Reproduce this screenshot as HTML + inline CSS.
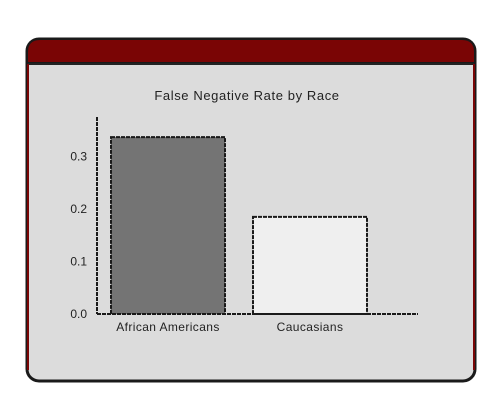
<!DOCTYPE html>
<html><head><meta charset="utf-8"><style>
body{margin:0;background:#fff;width:500px;height:400px;overflow:hidden;font-family:"Liberation Sans",sans-serif}
</style></head><body>
<svg width="500" height="400">
<rect x="27" y="39" width="448" height="342" rx="12" fill="#dcdcdc" stroke="#1a1a1a" stroke-width="3"/>
<path d="M27,63 L27,52 Q27,39 40,39 L462,39 Q475,39 475,52 L475,63 Z" fill="#7a0505" stroke="#1a1a1a" stroke-width="2"/>
<line x1="28" y1="64" x2="474" y2="64" stroke="#222" stroke-width="2"/>
<path d="M28,64 L28,370" stroke="#7a0505" stroke-width="2"/>
<path d="M474,64 L474,370" stroke="#7a0505" stroke-width="2"/>
<text x="247" y="100" text-anchor="middle" font-size="13" fill="#222" letter-spacing="0.6">False Negative Rate by Race</text>
<g id="plot"></g>
</svg>
<script>
const categories=["African Americans","Caucasians"];
const values=[0.337,0.185];
const yTicks=[0.0,0.1,0.2,0.3];
const yTickLabels=["0.0","0.1","0.2","0.3"];
const fills=["#747474","#efefef"];
const NS="http://www.w3.org/2000/svg";
const g=document.getElementById('plot');
const y0=314,pxPer=525;
function y(v){return y0-v*pxPer;}
function x(i){return 111+i*142;}
const bw=114;
function mk(t,a){const e=document.createElementNS(NS,t);for(const k in a)e.setAttribute(k,a[k]);g.appendChild(e);return e;}
yTicks.forEach((t,i)=>{
 const e=mk('text',{x:87,y:y(t)+4,'text-anchor':'end','font-size':'12',fill:'#222'});
 e.textContent=yTickLabels[i];
 
 
});
categories.forEach((c,i)=>{
 const r=mk('rect',{x:x(i),y:y(values[i]),width:bw,height:y0-y(values[i]),fill:fills[i],stroke:'#1a1a1a','stroke-width':2,'stroke-dasharray':'4 1'});
 
 
 const t=mk('text',{x:x(i)+bw/2,y:331,'text-anchor':'middle','font-size':'12',fill:'#222','letter-spacing':'0.4'});
 t.textContent=c;
 
 
});
const ya=mk('line',{x1:97,y1:117,x2:97,y2:y0,stroke:'#1a1a1a','stroke-width':2,'stroke-dasharray':'4 1'});


const xa=mk('line',{x1:97,y1:y0,x2:418,y2:y0,stroke:'#1a1a1a','stroke-width':2,'stroke-dasharray':'4 1'});


</script>
</body></html>
